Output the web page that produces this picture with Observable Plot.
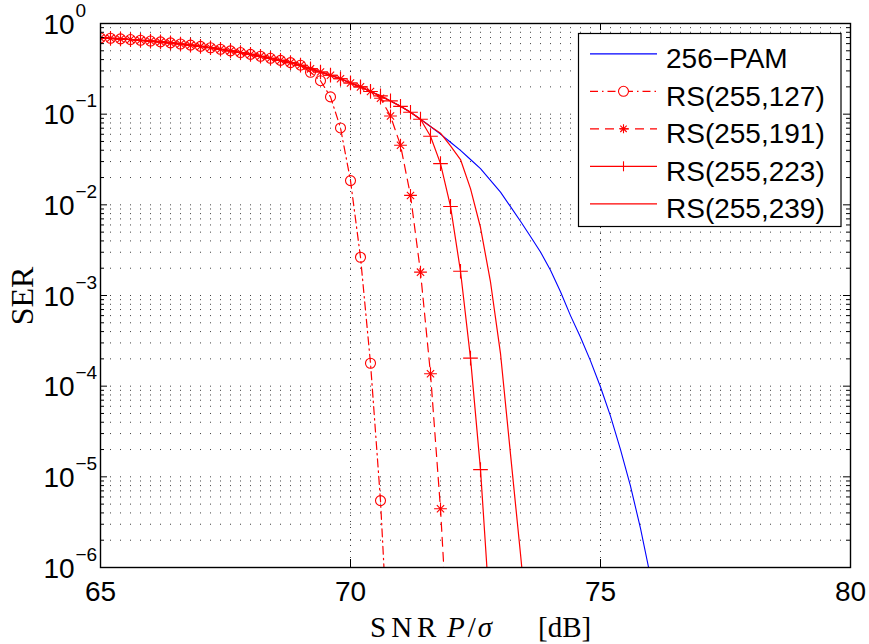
<!DOCTYPE html>
<html><head><meta charset="utf-8">
<script src="https://cdn.jsdelivr.net/npm/d3@7"></script>
<script src="https://cdn.jsdelivr.net/npm/@observablehq/plot@0.6"></script>
<style>body{margin:0;background:#fff}#chart{width:869px;height:644px}</style>
</head><body><div id="chart"></div>
<script>
// SNR grid (dB)
const snr = [65.0,65.2,65.4,65.6,65.8,66.0,66.2,66.4,66.6,66.8,67.0,67.2,67.4,67.6,67.8,68.0,68.2,68.4,68.6,68.8,
  69.0,69.2,69.4,69.6,69.8,70.0,70.2,70.4,70.6,70.8,71.0,71.2,71.4,71.6,71.8,72.0,72.2,72.4,72.6,72.8,
  73.0,73.2,73.4,73.6,73.8,74.0,74.2,74.4,74.6,74.8,75.0,75.2,75.4,75.6,75.8,76.0];
// shared part of all curves, 65.0 .. 71.6 dB
const shared = [0.693,0.687,0.676,0.665,0.653,0.640,0.627,0.611,0.594,0.577,0.559,0.540,0.520,0.499,0.478,0.456,0.435,0.413,0.392,0.370,
  0.347,0.316,0.292,0.269,0.246,0.221,0.200,0.178,0.159,0.140,0.122,0.105,0.088,0.073];
// tails after each curve leaves the shared part
const pamTail   = [0.0603,0.049,0.0398,0.0316,0.0251,0.0186,0.0138,0.00955,0.0066,0.00447,0.00302,0.0019,0.0011,0.0006,0.000347,0.00019,0.000098,0.0000468,0.00002,0.0000079,0.0000027,0.00000079]; // from 71.8
const rs127Tail = [0.29,0.234,0.155,0.0705,0.0185,0.00264,0.000179,0.00000547,0.00000004];            // from 69.2
const rs191Tail = [0.15,0.0955,0.0454,0.0127,0.00181,0.000137,0.00000444,0.00000005];                 // from 70.6
const rs223Tail = [0.057,0.0285,0.0096,0.00185,0.000204,0.000012,0.00000025];                        // from 71.6
const rs239Tail = [0.0617,0.0447,0.0316,0.0151,0.00562,0.00141,0.000229,0.0000178,0.00000141,0.0000001]; // from 71.8

const names = ["256−PAM","RS(255,127)","RS(255,191)","RS(255,223)","RS(255,239)"];
const pam256 = shared.concat(pamTail);
const rs127 = shared.slice(0,21).concat(rs127Tail);
const rs191 = shared.slice(0,28).concat(rs191Tail);
const rs223 = shared.slice(0,33).concat(rs223Tail);
const rs239 = shared.slice(0,34).concat(rs239Tail);

const yTicks = [1e-6,1e-5,1e-4,1e-3,1e-2,1e-1,1];
const yExp = ["−6","−5","−4","−3","−2","−1","0"];
const xTicks = [65,70,75,80];

const rows = vals => vals.map((v,i)=>({x:snr[i], y:v}));
const minor = [];
for (const t of yTicks.slice(0,-1)) for (let k=2;k<=9;k++) minor.push(t*k);

const RED="#ff0000", BLUE="#0000ff";
const DASHDOT="8,4,1.5,4", DASHED="9,6";
const pxX = 15/750;             // dB per pixel
const decPx = 544/6;            // pixels per decade
const up = px => Math.pow(10, px/decPx);

const plot = Plot.plot({
  width:869, height:644,
  marginLeft:100, marginRight:19, marginTop:23, marginBottom:77,
  x:{domain:[65,80], axis:null},
  y:{type:"log", domain:[1e-6,1], axis:null},
  style:{fontFamily:"'Liberation Sans', Arial, Helvetica, sans-serif", background:"#fff", color:"#000"},
  marks:[
    Plot.ruleY(yTicks.concat(minor), {stroke:"#000", strokeOpacity:0.75, strokeDasharray:"1,9"}),
    Plot.ruleX([70,75], {stroke:"#000", strokeOpacity:0.75, strokeDasharray:"1,5"}),
    Plot.line(rows(pam256), {x:"x", y:"y", stroke:BLUE, strokeWidth:1.1, clip:"frame"}),
    Plot.line(rows(rs239), {x:"x", y:"y", stroke:RED, strokeWidth:1.2, clip:"frame"}),
    Plot.line(rows(rs223), {x:"x", y:"y", stroke:RED, strokeWidth:1.2, clip:"frame"}),
    Plot.line(rows(rs191), {x:"x", y:"y", stroke:RED, strokeWidth:1.2, strokeDasharray:DASHED, clip:"frame"}),
    Plot.line(rows(rs127), {x:"x", y:"y", stroke:RED, strokeWidth:1.2, strokeDasharray:DASHDOT, clip:"frame"}),
    Plot.dot(rows(rs223), {x:"x", y:"y", symbol:"plus", r:4.8, stroke:RED, fill:"none", strokeWidth:1.1, clip:"frame"}),
    Plot.dot(rows(rs191), {x:"x", y:"y", symbol:"plus", r:4.2, stroke:RED, fill:"none", strokeWidth:1.1, clip:"frame"}),
    Plot.dot(rows(rs191), {x:"x", y:"y", symbol:"times", r:3.4, stroke:RED, fill:"none", strokeWidth:1.1, clip:"frame"}),
    Plot.dot(rows(rs127), {x:"x", y:"y", symbol:"circle", r:5, stroke:RED, fill:"none", strokeWidth:1.1, clip:"frame"}),
    // inward ticks
    Plot.ruleY(yTicks, {x1:65, x2:65+7*pxX, stroke:"#000"}),
    Plot.ruleY(yTicks, {x1:80-7*pxX, x2:80, stroke:"#000"}),
    Plot.ruleY(minor, {x1:65, x2:65+4*pxX, stroke:"#000"}),
    Plot.ruleY(minor, {x1:80-4*pxX, x2:80, stroke:"#000"}),
    Plot.ruleX([70,75], {y1:1e-6, y2:1e-6*up(8), stroke:"#000"}),
    Plot.ruleX([70,75], {y1:1/up(7), y2:1, stroke:"#000"}),
    Plot.frame({stroke:"#000", strokeWidth:1.4}),
    // tick labels
    Plot.text(yTicks, {y:d=>d, frameAnchor:"left", dx:-57, dy:10, text:()=>"10", textAnchor:"start", lineAnchor:"bottom", fontSize:28, fill:"#000"}),
    Plot.text(yTicks, {y:d=>d, frameAnchor:"left", dx:-25, dy:-6.7, text:(d,i)=>yExp[i], textAnchor:"start", lineAnchor:"bottom", fontSize:19, fill:"#000"}),
    Plot.text(xTicks, {x:d=>d, frameAnchor:"bottom", dy:33, text:d=>String(d), lineAnchor:"bottom", fontSize:28, fill:"#000"})
  ]
});
document.getElementById("chart").appendChild(plot);

const svg = d3.select(plot);
const serif = "'Liberation Serif','Times New Roman',serif";
svg.append("text").attr("transform","translate(33,296) rotate(-90)").attr("text-anchor","middle")
  .style("font-family",serif).style("font-size","32px").attr("fill","#000").text("SER");
const xl = svg.append("g").attr("text-anchor","start").style("font-family",serif).style("font-size","29px").attr("fill","#000");
xl.append("text").attr("x",370).attr("y",637).style("letter-spacing","5px").text("SNR");
const pt = xl.append("text").attr("x",447).attr("y",637);
pt.append("tspan").style("font-style","italic").text("P");
pt.append("tspan").attr("dx",3).text("/");
pt.append("tspan").attr("dx",2).style("font-style","italic").text("σ");
xl.append("text").attr("x",538).attr("y",637).text("[dB]");

// legend
const lg = svg.append("g").attr("text-anchor","start");
lg.append("rect").attr("x",578.5).attr("y",33.5).attr("width",262.5).attr("height",193)
  .attr("fill","#fff").attr("stroke","#000").attr("stroke-width",1.2);
const styles = [
  {stroke:BLUE, dash:null, marker:null},
  {stroke:RED, dash:DASHDOT, marker:"circle"},
  {stroke:RED, dash:DASHED, marker:"star"},
  {stroke:RED, dash:null, marker:"plus"},
  {stroke:RED, dash:null, marker:null}
];
names.forEach((n,i)=>{
  const base = 68.3 + i*37.5, ly = base - 14.5, mx = 623.5;
  const s = styles[i];
  const l = lg.append("line").attr("x1",590).attr("x2",657).attr("y1",ly).attr("y2",ly)
    .attr("stroke",s.stroke).attr("stroke-width",1.2);
  if (s.dash) l.attr("stroke-dasharray",s.dash);
  if (s.marker==="circle") lg.append("circle").attr("cx",mx).attr("cy",ly).attr("r",5).attr("fill","#fff").attr("stroke",RED).attr("stroke-width",1.1);
  if (s.marker==="star") lg.append("path").attr("d",`M${mx-4.5},${ly}h9M${mx},${ly-4.5}v9M${mx-3.2},${ly-3.2}l6.4,6.4M${mx-3.2},${ly+3.2}l6.4,-6.4`).attr("stroke",RED).attr("stroke-width",1.1).attr("fill","none");
  if (s.marker==="plus") lg.append("path").attr("d",`M${mx},${ly-5}v10`).attr("stroke",RED).attr("stroke-width",1.1);
  lg.append("text").attr("x",666).attr("y",base).style("font-family","'Liberation Sans', Arial, sans-serif")
    .style("font-size","28px").attr("fill","#000").text(n);
});
</script></body></html>
